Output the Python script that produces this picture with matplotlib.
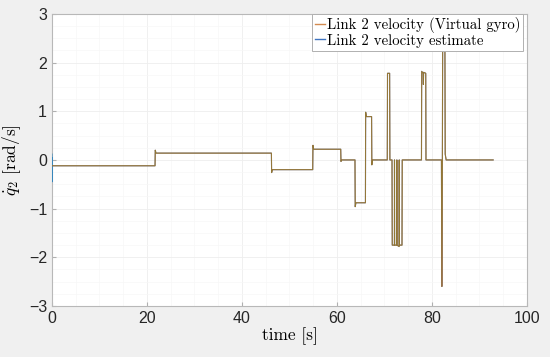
import matplotlib
matplotlib.use("Agg")
import matplotlib.pyplot as plt
from matplotlib.lines import Line2D
from matplotlib.ticker import MultipleLocator

# breakpoints of the measured (virtual gyro) signal, time [s] and velocity [rad/s]
t_gyro = [0.0, 0.05, 21.7, 21.75, 21.9, 46.2, 46.25, 46.4, 54.9, 54.95, 55.1,
          60.8, 60.85, 61.0, 63.8, 63.85, 64.0, 66.0, 66.05, 66.2, 67.3, 67.35, 67.5,
          70.6, 70.65, 71.1, 71.15, 71.6, 71.65, 72.1, 72.12, 72.15, 72.6, 72.62, 72.65,
          73.1, 73.12, 73.15, 73.7, 73.75, 77.8, 77.85, 78.15, 78.2, 78.25, 78.7, 78.75,
          82.0, 82.1, 82.2, 82.3, 82.7, 82.8, 83.0, 92.9]
v_gyro = [-0.12, -0.12, -0.12, 0.2, 0.14, 0.14, -0.26, -0.2, -0.2, 0.3, 0.22,
          0.22, -0.03, 0.0, 0.0, -0.96, -0.88, -0.88, 0.98, 0.89, 0.89, -0.1, 0.0,
          0.0, 1.78, 1.78, 0.0, 0.0, -1.75, -1.75, 0.0, -1.75, -1.75, 0.0, -1.75,
          -1.78, 0.0, -1.75, -1.75, 0.0, 0.0, 1.82, 1.78, 1.55, 1.8, 1.78, 0.0,
          0.0, -2.6, 0.0, 3.6, 3.6, 0.12, 0.0, 0.0]

# estimate follows the gyro but with a small transient at start
t_est = [0.0, 0.02, 0.05, 0.1] + t_gyro[2:]
v_est = [0.12, -0.45, 0.05, -0.12] + v_gyro[2:]

x_ticks = [0, 20, 40, 60, 80, 100]
y_ticks = [-3, -2, -1, 0, 1, 2, 3]
labels = ["Link 2 velocity (Virtual gyro)", "Link 2 velocity estimate"]

plt.rcParams["mathtext.fontset"] = "cm"
sans = ["Liberation Sans", "DejaVu Sans"]
serif = ["cmr10", "DejaVu Serif"]

fig = plt.figure(figsize=(5.5, 3.57), dpi=100, facecolor="#f0f0f0")
ax = fig.add_axes([0.0945, 0.143, 0.8635, 0.818])
ax.set_facecolor("white")

ax.plot(t_est, v_est, color="#0072BD", lw=0.8, alpha=0.7, zorder=3)
ax.plot(t_gyro, v_gyro, color="#D95319", lw=0.8, alpha=0.6, zorder=4)
# olive tint where both traces overlap
ax.plot(t_gyro, v_gyro, color="#8f7a2a", lw=0.6, alpha=0.85, zorder=5)

ax.set_xlim(0, 100)
ax.set_ylim(-3, 3)
ax.set_xticks(x_ticks)
ax.set_yticks(y_ticks)
ax.set_xticklabels([str(v) for v in x_ticks], family=sans, fontsize=11.5, color="#262626")
ax.set_yticklabels([str(v).replace("-", "\u2212") for v in y_ticks], family=sans,
                   fontsize=11.5, color="#262626")
ax.xaxis.set_minor_locator(MultipleLocator(5))
ax.yaxis.set_minor_locator(MultipleLocator(0.25))
ax.tick_params(which="both", direction="in", color="#b0b0b0", length=3)
ax.tick_params(which="minor", length=0)
ax.grid(which="major", color="#eeeeee", lw=0.6)
ax.grid(which="minor", color="#f7f7f7", lw=0.5)
ax.set_axisbelow(True)
for s in ax.spines.values():
    s.set_color("#b8b8b8")
    s.set_linewidth(0.8)

ax.set_xlabel("time [s]", family=serif, fontsize=12.5, labelpad=1)
ax.set_ylabel(r"$\dot{q}_2$ [rad/s]", family=serif, fontsize=12.5, labelpad=4)

handles = [Line2D([], [], color="#d38a50", lw=1.0), Line2D([], [], color="#3f74c0", lw=1.0)]
leg = ax.legend(handles, labels, loc="upper right", bbox_to_anchor=(0.992, 1.0),
                prop={"family": serif, "size": 10.7},
                handlelength=0.7, handletextpad=0.1, borderaxespad=0.0, borderpad=0.2,
                labelspacing=0.05, fancybox=False, framealpha=1, edgecolor="#b0b0b0")
leg.get_frame().set_linewidth(0.7)
leg.set_zorder(10)

fig.savefig("out.png", dpi=100, facecolor=fig.get_facecolor())
